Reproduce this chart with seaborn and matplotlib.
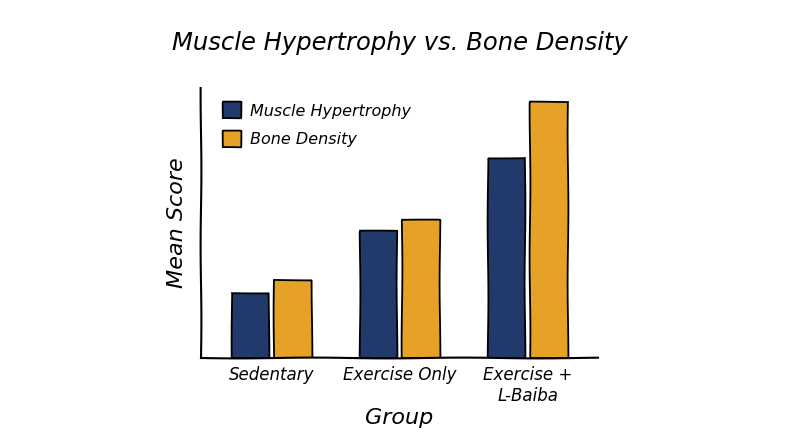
import matplotlib
matplotlib.use("Agg")
import matplotlib.pyplot as plt
import seaborn as sns
import pandas as pd

# values (no axis scale shown, arbitrary units)
groups = ["Sedentary", "Exercise Only", "Exercise +\nL-Baiba"]
muscle = [2.4, 4.7, 7.4]
bone = [2.9, 5.1, 9.5]
series = ["Muscle Hypertrophy", "Bone Density"]
colors = ["#1f3a6b", "#e5a227"]

df = pd.DataFrame({
    "Group": groups * 2,
    "Score": muscle + bone,
    "Measure": [series[0]] * 3 + [series[1]] * 3,
})

sns.set_style("white")
plt.xkcd(scale=0.4, length=150, randomness=1)
plt.rcParams["path.effects"] = []
plt.rcParams["font.family"] = ["DejaVu Sans"]
plt.rcParams["font.style"] = "italic"
plt.rcParams["text.color"] = "black"
plt.rcParams["axes.labelcolor"] = "black"
plt.rcParams["xtick.color"] = "black"

fig = plt.figure(figsize=(8, 4.47), dpi=100)
ax = fig.add_axes([0.251, 0.199, 0.4965, 0.604])

sns.barplot(data=df, x="Group", y="Score", hue="Measure", hue_order=series,
            palette=colors, width=0.66, gap=0.12, edgecolor="black",
            linewidth=1.3, saturation=1, ax=ax)

ax.set_xlim(-0.555, 2.547)
ax.set_ylim(0, 10)
ax.set_yticks([])
ax.tick_params(axis="x", length=0, labelsize=12, pad=6)
for s in ["top", "right"]:
    ax.spines[s].set_visible(False)
for s in ["left", "bottom"]:
    ax.spines[s].set_linewidth(1.5)
    ax.spines[s].set_color("black")

ax.set_xlabel("Group", fontsize=16, labelpad=2)
ax.set_ylabel("Mean Score", fontsize=16, labelpad=10)
fig.suptitle("Muscle Hypertrophy vs. Bone Density", fontsize=17.5, y=0.93)

ax.legend(loc="upper left", bbox_to_anchor=(0.02, 1.0), frameon=False,
          fontsize=11.5, handlelength=1.1, handleheight=1.1, labelspacing=0.8,
          handletextpad=0.6)

fig.savefig("out.png", dpi=100)
